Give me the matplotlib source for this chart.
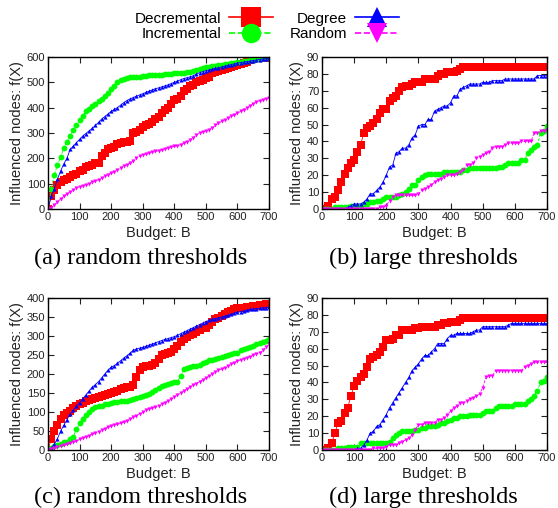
import numpy as np
import matplotlib.pyplot as plt
from matplotlib.lines import Line2D

budget = np.arange(0, 701, 10)

# (a) random thresholds
a_dec = [0, 50, 75, 95, 105, 115, 120, 125, 135, 140,
         150, 155, 165, 170, 175, 180, 183, 210, 220, 235,
         240, 245, 255, 260, 265, 265, 270, 300, 305, 310,
         325, 330, 335, 345, 355, 365, 380, 390, 400, 415,
         430, 435, 445, 465, 475, 485, 490, 500, 505, 510,
         518, 522, 535, 540, 545, 550, 553, 556, 560, 565,
         570, 573, 576, 582, 588, 592, 595, 600, 600, 598,
         598]
a_inc = [0, 80, 135, 175, 205, 240, 265, 290, 310, 330,
         350, 368, 385, 395, 405, 415, 425, 435, 445, 458,
         472, 487, 500, 510, 515, 518, 520, 520, 522, 523,
         525, 526, 527, 528, 528, 530, 530, 531, 532, 533,
         535, 536, 537, 538, 540, 542, 545, 548, 552, 556,
         560, 562, 564, 566, 568, 570, 572, 574, 576, 578,
         580, 582, 584, 586, 588, 590, 592, 594, 596, 597,
         598]
a_deg = [0, 50, 80, 118, 150, 178, 200, 235, 248, 262,
         275, 288, 298, 308, 318, 330, 342, 355, 365, 375,
         385, 393, 400, 410, 420, 428, 435, 440, 445, 450,
         455, 460, 465, 470, 475, 478, 482, 486, 490, 495,
         500, 505, 510, 515, 518, 522, 526, 532, 538, 542,
         546, 549, 552, 555, 558, 561, 564, 567, 570, 573,
         576, 578, 580, 582, 584, 586, 588, 590, 592, 594,
         595]
a_rnd = [0, 5, 15, 28, 40, 50, 60, 67, 75, 82,
         88, 92, 96, 100, 105, 110, 116, 122, 130, 136,
         142, 148, 155, 162, 170, 175, 182, 190, 200, 208,
         215, 218, 221, 224, 227, 230, 234, 238, 242, 245,
         247, 250, 254, 260, 266, 274, 282, 292, 300, 305,
         308, 313, 320, 330, 338, 346, 352, 360, 366, 372,
         378, 385, 392, 400, 408, 416, 422, 428, 432, 435,
         437]

# (b) large thresholds
b_dec = [0, 0, 2, 6, 7, 11, 16, 21, 24, 27,
         29, 34, 38, 45, 48, 49, 51, 53, 57, 59,
         59, 64, 66, 67, 70, 72, 73, 73, 74, 75,
         75, 75, 77, 77, 77, 77, 79, 80, 80, 81,
         81, 81, 82, 83, 84, 84, 84, 84, 84, 84,
         84, 84, 84, 84, 84, 84, 84, 84, 84, 84,
         84, 84, 84, 84, 84, 84, 84, 84, 84, 84,
         84]
b_inc = [0, 0, 0, 0, 1, 1, 1, 1, 1, 2,
         2, 2, 2, 3, 3, 4, 4, 5, 5, 6,
         7, 7, 7, 7, 8, 9, 10, 12, 14, 14,
         17, 19, 20, 21, 21, 21, 21, 21, 22, 22,
         22, 22, 22, 22, 23, 23, 24, 24, 24, 24,
         24, 24, 24, 24, 24, 25, 25, 26, 27, 27,
         27, 27, 29, 29, 33, 35, 37, 38, 45, 46,
         49]
b_deg = [0, 0, 0, 0, 0, 0, 0, 0, 1, 2,
         3, 3, 3, 4, 6, 9, 9, 11, 13, 16,
         20, 25, 26, 33, 34, 36, 36, 38, 42, 44,
         49, 50, 50, 53, 53, 58, 59, 60, 61, 61,
         63, 67, 67, 71, 72, 73, 74, 74, 74, 74,
         75, 75, 75, 76, 76, 76, 76, 77, 77, 77,
         77, 77, 77, 77, 77, 77, 77, 79, 79, 79,
         79]
b_rnd = [0, 0, 0, 0, 0, 0, 0, 0, 0, 0,
         0, 0, 0, 0, 0, 0, 0, 0, 1, 1,
         2, 5, 7, 8, 8, 8, 8, 8, 8, 8,
         9, 11, 12, 13, 14, 16, 17, 18, 19, 20,
         20, 20, 21, 22, 23, 26, 26, 27, 30, 31,
         32, 33, 34, 36, 37, 37, 37, 38, 39, 39,
         39, 39, 40, 40, 40, 40, 45, 45, 46, 46,
         47]

# (c) random thresholds
c_dec = [0, 28, 50, 65, 82, 92, 97, 102, 110, 115,
         120, 125, 128, 132, 135, 138, 140, 142, 145, 148,
         150, 152, 155, 160, 162, 165, 167, 170, 192, 210,
         218, 220, 222, 225, 228, 240, 250, 252, 255, 258,
         265, 275, 285, 292, 298, 302, 306, 310, 315, 320,
         322, 328, 338, 345, 348, 352, 358, 362, 365, 370,
         373, 374, 375, 376, 377, 378, 380, 381, 382, 383,
         385]
c_inc = [0, 5, 10, 12, 15, 20, 22, 28, 35, 55,
         70, 82, 92, 100, 108, 112, 115, 117, 120, 122,
         124, 126, 127, 128, 129, 130, 132, 134, 137, 140,
         142, 145, 148, 153, 158, 163, 168, 172, 175, 177,
         178, 180, 195, 212, 215, 218, 220, 222, 225, 228,
         232, 236, 238, 240, 242, 245, 248, 250, 252, 254,
         256, 262, 265, 268, 272, 275, 278, 282, 285, 288,
         292]
c_deg = [0, 5, 15, 30, 50, 65, 80, 95, 105, 115,
         125, 135, 145, 155, 165, 172, 180, 190, 200, 210,
         218, 222, 228, 235, 242, 248, 255, 262, 266, 268,
         270, 273, 276, 279, 282, 285, 288, 291, 293, 296,
         298, 302, 306, 310, 314, 318, 322, 326, 330, 334,
         338, 341, 344, 346, 348, 350, 352, 355, 357, 360,
         362, 364, 366, 368, 370, 371, 372, 373, 374, 375,
         376]
c_rnd = [0, 2, 5, 8, 10, 12, 15, 18, 20, 23,
         28, 32, 35, 38, 42, 45, 48, 52, 56, 60,
         63, 66, 68, 70, 73, 77, 82, 86, 90, 95,
         100, 104, 108, 110, 112, 115, 120, 125, 130, 135,
         140, 145, 150, 155, 160, 165, 170, 175, 180, 185,
         190, 195, 200, 205, 210, 213, 217, 222, 226, 230,
         234, 237, 240, 243, 246, 249, 252, 256, 262, 270,
         278]

# (d) large thresholds
d_dec = [0, 0, 1, 4, 10, 16, 17, 22, 25, 32,
         38, 41, 43, 45, 49, 54, 55, 56, 58, 61,
         65, 65, 66, 68, 68, 71, 71, 71, 71, 72,
         72, 73, 73, 73, 73, 73, 74, 74, 75, 75,
         76, 76, 76, 77, 78, 78, 78, 78, 78, 78,
         78, 78, 78, 78, 78, 78, 78, 78, 78, 78,
         78, 78, 78, 78, 78, 78, 78, 78, 78, 78,
         78]
d_inc = [0, 0, 0, 0, 0, 1, 1, 1, 2, 2,
         2, 2, 4, 4, 4, 4, 4, 4, 4, 4,
         4, 5, 7, 9, 10, 11, 11, 11, 11, 12,
         12, 13, 13, 14, 14, 14, 15, 16, 16, 17,
         18, 19, 19, 20, 20, 20, 21, 21, 21, 21,
         22, 23, 23, 23, 25, 26, 26, 26, 26, 26,
         27, 27, 27, 27, 29, 30, 32, 35, 40, 41,
         43]
d_deg = [0, 0, 0, 0, 0, 0, 0, 0, 0, 0,
         0, 1, 1, 3, 6, 10, 11, 14, 15, 18,
         21, 25, 28, 31, 34, 37, 40, 43, 47, 49,
         51, 54, 56, 56, 58, 60, 63, 63, 63, 66,
         68, 68, 69, 69, 69, 69, 69, 70, 71, 71,
         73, 73, 73, 73, 73, 73, 73, 73, 74, 75,
         75, 75, 75, 75, 75, 75, 75, 75, 75, 75,
         75]
d_rnd = [0, 0, 0, 0, 0, 0, 0, 0, 0, 0,
         0, 0, 0, 0, 0, 0, 1, 1, 1, 1,
         2, 3, 3, 3, 4, 5, 6, 7, 9, 12,
         15, 15, 16, 16, 16, 16, 18, 18, 19, 21,
         23, 25, 26, 28, 28, 29, 30, 31, 32, 33,
         37, 43, 44, 44, 47, 47, 47, 47, 47, 47,
         47, 47, 47, 49, 50, 51, 52, 52, 52, 52,
         52]

captions = ['(a) random thresholds', '(b) large thresholds',
            '(c) random thresholds', '(d) large thresholds']
ymax = [600, 90, 400, 90]
ystep = [100, 10, 50, 10]
panels = [(a_dec, a_inc, a_deg, a_rnd), (b_dec, b_inc, b_deg, b_rnd),
          (c_dec, c_inc, c_deg, c_rnd), (d_dec, d_inc, d_deg, d_rnd)]

# style per method: colour, linestyle, marker, marker size
styles = [('#ff0000', '-', 's', 5.2),
          ('#00ff00', '--', 'o', 4.2),
          ('#0000ff', '-', '^', 3.0),
          ('#ff00ff', '--', 'v', 3.0)]
names = ['Decremental', 'Incremental', 'Degree', 'Random']

plt.rcParams['font.family'] = 'Liberation Sans'

fig = plt.figure(figsize=(5.58, 5.08), dpi=100)
W, H = 558.0, 508.0
boxes = [(48, 57, 269, 209), (322, 57, 547, 209),
         (48, 298, 269, 450), (322, 298, 547, 450)]
cap_pos = [(141, 258), (423, 258), (141, 497), (423, 497)]

for k in range(4):
    x0, y0, x1, y1 = boxes[k]
    ax = fig.add_axes([x0 / W, 1 - y1 / H, (x1 - x0) / W, (y1 - y0) / H])
    for series, (col, ls, mk, ms) in zip(panels[k], styles):
        ax.plot(budget, series, color=col, linestyle=ls, linewidth=0.6,
                marker=mk, markersize=ms, markeredgewidth=0)
    ax.set_xlim(0, 700)
    ax.set_ylim(0, ymax[k])
    ax.set_xticks(np.arange(0, 701, 100))
    ax.set_yticks(np.arange(0, ymax[k] + 1, ystep[k]))
    ax.tick_params(direction='in', top=True, right=True, length=4,
                   labelsize=8, pad=2, colors='#222222', labelcolor='#222222')
    for sp in ax.spines.values():
        sp.set_linewidth(1.0)
    ax.set_xlabel('Budget: B', fontsize=10.5, labelpad=3, color='#222222')
    ax.set_ylabel('Influenced nodes: f(X)', fontsize=10.5, labelpad=2,
                  color='#222222')
    fig.text(cap_pos[k][0] / W, 1 - cap_pos[k][1] / H, captions[k],
             ha='center', va='center', fontsize=17.5,
             family='Liberation Serif')

handles = [Line2D([], [], color=col, linestyle=ls, marker=mk, markersize=14,
                  markeredgewidth=0, linewidth=1.2)
           for col, ls, mk, ms in styles]
fig.legend(handles, names,
           ncol=2, loc='upper center', bbox_to_anchor=(0.478, 0.995),
           frameon=False, markerfirst=False, fontsize=11,
           handlelength=2.9, labelspacing=0.1, columnspacing=1.1,
           handletextpad=0.5, borderaxespad=0.2)

fig.savefig('out.png', dpi=100)
